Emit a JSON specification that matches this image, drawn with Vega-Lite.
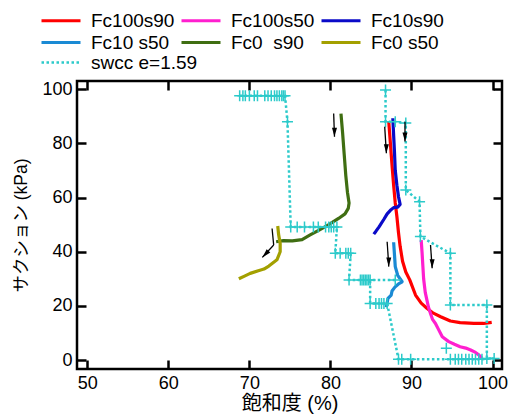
{
  "$schema": "https://vega.github.io/schema/vega-lite/v6.json",
  "width": 425,
  "height": 288,
  "autosize": {"type": "none"},
  "padding": {"left": 77, "top": 81, "right": 7, "bottom": 48},
  "background": "white",
  "config": {
    "font": "Liberation Sans",
    "view": {"stroke": "black", "strokeWidth": 2.5},
    "axis": {
      "grid": false,
      "domain": false,
      "tickColor": "black",
      "tickWidth": 2.5,
      "tickSize": -9,
      "labelPadding": 14,
      "labelFont": "Liberation Sans",
      "labelFontSize": 18,
      "labelColor": "black",
      "titleFont": "Liberation Sans, Noto Sans CJK JP",
      "titleFontWeight": "normal",
      "titleColor": "black"
    },
    "legend": {
      "title": null,
      "orient": "none",
      "direction": "horizontal",
      "symbolType": "stroke",
      "symbolSize": 1521,
      "symbolStrokeWidth": 3,
      "labelFont": "Liberation Sans",
      "labelFontSize": 19,
      "labelColor": "black",
      "labelOffset": 9,
      "columnPadding": 5,
      "rowPadding": 2,
      "padding": 0,
      "clipHeight": 19,
      "labelLimit": 0
    }
  },
  "datasets": {
    "curves": [
      {"series": "Fc100s90", "i": 0, "sat": 87.2, "suc": 88.0},
      {"series": "Fc100s90", "i": 1, "sat": 87.3, "suc": 84.0},
      {"series": "Fc100s90", "i": 2, "sat": 87.4, "suc": 80.0},
      {"series": "Fc100s90", "i": 3, "sat": 87.5, "suc": 76.0},
      {"series": "Fc100s90", "i": 4, "sat": 87.6, "suc": 72.0},
      {"series": "Fc100s90", "i": 5, "sat": 87.8, "suc": 64.5},
      {"series": "Fc100s90", "i": 6, "sat": 88.0, "suc": 58.0},
      {"series": "Fc100s90", "i": 7, "sat": 88.2, "suc": 53.0},
      {"series": "Fc100s90", "i": 8, "sat": 88.4, "suc": 47.0},
      {"series": "Fc100s90", "i": 9, "sat": 88.6, "suc": 42.0},
      {"series": "Fc100s90", "i": 10, "sat": 88.9, "suc": 36.5},
      {"series": "Fc100s90", "i": 11, "sat": 89.3, "suc": 32.5},
      {"series": "Fc100s90", "i": 12, "sat": 89.8, "suc": 29.5},
      {"series": "Fc100s90", "i": 13, "sat": 90.5, "suc": 24.0},
      {"series": "Fc100s90", "i": 14, "sat": 91.2, "suc": 21.0},
      {"series": "Fc100s90", "i": 15, "sat": 91.9, "suc": 19.1},
      {"series": "Fc100s90", "i": 16, "sat": 92.7, "suc": 17.3},
      {"series": "Fc100s90", "i": 17, "sat": 93.6, "suc": 16.0},
      {"series": "Fc100s90", "i": 18, "sat": 94.8, "suc": 14.4},
      {"series": "Fc100s90", "i": 19, "sat": 96.0, "suc": 13.8},
      {"series": "Fc100s90", "i": 20, "sat": 97.7, "suc": 13.5},
      {"series": "Fc100s90", "i": 21, "sat": 98.9, "suc": 13.5},
      {"series": "Fc100s90", "i": 22, "sat": 99.9, "suc": 13.9},

      {"series": "Fc100s50", "i": 0, "sat": 91.2, "suc": 44.3},
      {"series": "Fc100s50", "i": 1, "sat": 91.3, "suc": 40.0},
      {"series": "Fc100s50", "i": 2, "sat": 91.4, "suc": 35.0},
      {"series": "Fc100s50", "i": 3, "sat": 91.5, "suc": 30.0},
      {"series": "Fc100s50", "i": 4, "sat": 91.7, "suc": 25.0},
      {"series": "Fc100s50", "i": 5, "sat": 91.9, "suc": 22.2},
      {"series": "Fc100s50", "i": 6, "sat": 92.1, "suc": 19.5},
      {"series": "Fc100s50", "i": 7, "sat": 92.35, "suc": 17.2},
      {"series": "Fc100s50", "i": 8, "sat": 92.6, "suc": 15.0},
      {"series": "Fc100s50", "i": 9, "sat": 92.96, "suc": 13.5},
      {"series": "Fc100s50", "i": 10, "sat": 93.3, "suc": 11.5},
      {"series": "Fc100s50", "i": 11, "sat": 93.8, "suc": 8.6},
      {"series": "Fc100s50", "i": 12, "sat": 94.6, "suc": 6.8},
      {"series": "Fc100s50", "i": 13, "sat": 95.3, "suc": 5.8},
      {"series": "Fc100s50", "i": 14, "sat": 96.0, "suc": 4.9},
      {"series": "Fc100s50", "i": 15, "sat": 96.7, "suc": 4.4},
      {"series": "Fc100s50", "i": 16, "sat": 97.3, "suc": 3.7},
      {"series": "Fc100s50", "i": 17, "sat": 97.9, "suc": 2.8},
      {"series": "Fc100s50", "i": 18, "sat": 98.3, "suc": 1.9},
      {"series": "Fc100s50", "i": 19, "sat": 98.7, "suc": 0.7},

      {"series": "Fc10s90", "i": 0, "sat": 87.7, "suc": 89.3},
      {"series": "Fc10s90", "i": 1, "sat": 87.8, "suc": 83.0},
      {"series": "Fc10s90", "i": 2, "sat": 87.9, "suc": 77.0},
      {"series": "Fc10s90", "i": 3, "sat": 88.0, "suc": 70.0},
      {"series": "Fc10s90", "i": 4, "sat": 88.2, "suc": 64.6},
      {"series": "Fc10s90", "i": 5, "sat": 88.4, "suc": 60.3},
      {"series": "Fc10s90", "i": 6, "sat": 88.6, "suc": 57.5},
      {"series": "Fc10s90", "i": 7, "sat": 88.3, "suc": 56.5},
      {"series": "Fc10s90", "i": 8, "sat": 87.8, "suc": 56.3},
      {"series": "Fc10s90", "i": 9, "sat": 87.4, "suc": 55.3},
      {"series": "Fc10s90", "i": 10, "sat": 87.0, "suc": 54.0},
      {"series": "Fc10s90", "i": 11, "sat": 86.6, "suc": 52.0},
      {"series": "Fc10s90", "i": 12, "sat": 86.0, "suc": 49.2},
      {"series": "Fc10s90", "i": 13, "sat": 85.6, "suc": 47.5},
      {"series": "Fc10s90", "i": 14, "sat": 85.35, "suc": 46.5},

      {"series": "Fc10\u00a0s50", "i": 0, "sat": 87.8, "suc": 43.5},
      {"series": "Fc10\u00a0s50", "i": 1, "sat": 87.9, "suc": 39.0},
      {"series": "Fc10\u00a0s50", "i": 2, "sat": 88.0, "suc": 34.5},
      {"series": "Fc10\u00a0s50", "i": 3, "sat": 88.3, "suc": 31.3},
      {"series": "Fc10\u00a0s50", "i": 4, "sat": 88.85, "suc": 28.9},
      {"series": "Fc10\u00a0s50", "i": 5, "sat": 88.4, "suc": 28.1},
      {"series": "Fc10\u00a0s50", "i": 6, "sat": 88.0, "suc": 27.1},
      {"series": "Fc10\u00a0s50", "i": 7, "sat": 87.6, "suc": 25.5},
      {"series": "Fc10\u00a0s50", "i": 8, "sat": 87.5, "suc": 24.0},
      {"series": "Fc10\u00a0s50", "i": 9, "sat": 87.1, "suc": 22.8},
      {"series": "Fc10\u00a0s50", "i": 10, "sat": 86.9, "suc": 19.5},

      {"series": "Fc0\u00a0\u00a0s90", "i": 0, "sat": 81.3, "suc": 91.0},
      {"series": "Fc0\u00a0\u00a0s90", "i": 1, "sat": 81.5, "suc": 84.0},
      {"series": "Fc0\u00a0\u00a0s90", "i": 2, "sat": 81.7, "suc": 76.0},
      {"series": "Fc0\u00a0\u00a0s90", "i": 3, "sat": 81.9, "suc": 68.0},
      {"series": "Fc0\u00a0\u00a0s90", "i": 4, "sat": 82.1, "suc": 62.0},
      {"series": "Fc0\u00a0\u00a0s90", "i": 5, "sat": 82.3, "suc": 58.0},
      {"series": "Fc0\u00a0\u00a0s90", "i": 6, "sat": 82.2, "suc": 56.0},
      {"series": "Fc0\u00a0\u00a0s90", "i": 7, "sat": 81.8, "suc": 54.0},
      {"series": "Fc0\u00a0\u00a0s90", "i": 8, "sat": 81.0, "suc": 52.3},
      {"series": "Fc0\u00a0\u00a0s90", "i": 9, "sat": 79.8, "suc": 50.0},
      {"series": "Fc0\u00a0\u00a0s90", "i": 10, "sat": 78.6, "suc": 48.0},
      {"series": "Fc0\u00a0\u00a0s90", "i": 11, "sat": 77.5, "suc": 46.2},
      {"series": "Fc0\u00a0\u00a0s90", "i": 12, "sat": 76.5, "suc": 44.5},
      {"series": "Fc0\u00a0\u00a0s90", "i": 13, "sat": 75.3, "suc": 44.0},
      {"series": "Fc0\u00a0\u00a0s90", "i": 14, "sat": 74.2, "suc": 44.1},
      {"series": "Fc0\u00a0\u00a0s90", "i": 15, "sat": 73.3, "suc": 43.7},

      {"series": "Fc0\u00a0s50", "i": 0, "sat": 73.5, "suc": 49.5},
      {"series": "Fc0\u00a0s50", "i": 1, "sat": 73.6, "suc": 46.5},
      {"series": "Fc0\u00a0s50", "i": 2, "sat": 73.8, "suc": 43.0},
      {"series": "Fc0\u00a0s50", "i": 3, "sat": 73.8, "suc": 40.0},
      {"series": "Fc0\u00a0s50", "i": 4, "sat": 73.4, "suc": 37.0},
      {"series": "Fc0\u00a0s50", "i": 5, "sat": 72.4, "suc": 34.7},
      {"series": "Fc0\u00a0s50", "i": 6, "sat": 71.8, "suc": 33.6},
      {"series": "Fc0\u00a0s50", "i": 7, "sat": 71.1, "suc": 33.0},
      {"series": "Fc0\u00a0s50", "i": 8, "sat": 70.1, "suc": 32.0},
      {"series": "Fc0\u00a0s50", "i": 9, "sat": 69.4, "suc": 31.0},
      {"series": "Fc0\u00a0s50", "i": 10, "sat": 68.7, "suc": 30.0}
    ],
    "swcc": [
      {"series": "swcc e=1.59", "branch": "wet", "i": 0, "sat": 68.8, "suc": 97.6},
      {"series": "swcc e=1.59", "branch": "wet", "i": 1, "sat": 69.2, "suc": 97.6},
      {"series": "swcc e=1.59", "branch": "wet", "i": 2, "sat": 69.5, "suc": 97.6},
      {"series": "swcc e=1.59", "branch": "wet", "i": 3, "sat": 70.0, "suc": 97.6},
      {"series": "swcc e=1.59", "branch": "wet", "i": 4, "sat": 70.6, "suc": 97.6},
      {"series": "swcc e=1.59", "branch": "wet", "i": 5, "sat": 71.0, "suc": 97.6},
      {"series": "swcc e=1.59", "branch": "wet", "i": 6, "sat": 71.9, "suc": 97.6},
      {"series": "swcc e=1.59", "branch": "wet", "i": 7, "sat": 72.3, "suc": 97.6},
      {"series": "swcc e=1.59", "branch": "wet", "i": 8, "sat": 72.7, "suc": 97.6},
      {"series": "swcc e=1.59", "branch": "wet", "i": 9, "sat": 73.1, "suc": 97.6},
      {"series": "swcc e=1.59", "branch": "wet", "i": 10, "sat": 73.4, "suc": 97.6},
      {"series": "swcc e=1.59", "branch": "wet", "i": 11, "sat": 73.7, "suc": 97.6},
      {"series": "swcc e=1.59", "branch": "wet", "i": 12, "sat": 74.0, "suc": 97.6},
      {"series": "swcc e=1.59", "branch": "wet", "i": 13, "sat": 74.2, "suc": 97.6},
      {"series": "swcc e=1.59", "branch": "wet", "i": 14, "sat": 74.4, "suc": 97.6},
      {"series": "swcc e=1.59", "branch": "wet", "i": 15, "sat": 74.7, "suc": 88.0},
      {"series": "swcc e=1.59", "branch": "wet", "i": 16, "sat": 75.1, "suc": 49.1},
      {"series": "swcc e=1.59", "branch": "wet", "i": 17, "sat": 75.9, "suc": 49.1},
      {"series": "swcc e=1.59", "branch": "wet", "i": 18, "sat": 76.8, "suc": 49.1},
      {"series": "swcc e=1.59", "branch": "wet", "i": 19, "sat": 77.9, "suc": 49.1},
      {"series": "swcc e=1.59", "branch": "wet", "i": 20, "sat": 78.5, "suc": 49.1},
      {"series": "swcc e=1.59", "branch": "wet", "i": 21, "sat": 79.4, "suc": 49.1},
      {"series": "swcc e=1.59", "branch": "wet", "i": 22, "sat": 79.8, "suc": 49.1},
      {"series": "swcc e=1.59", "branch": "wet", "i": 23, "sat": 80.1, "suc": 49.1},
      {"series": "swcc e=1.59", "branch": "wet", "i": 24, "sat": 80.4, "suc": 49.1},
      {"series": "swcc e=1.59", "branch": "wet", "i": 25, "sat": 80.8, "suc": 49.1},
      {"series": "swcc e=1.59", "branch": "wet", "i": 26, "sat": 80.6, "suc": 39.4},
      {"series": "swcc e=1.59", "branch": "wet", "i": 27, "sat": 81.2, "suc": 39.4},
      {"series": "swcc e=1.59", "branch": "wet", "i": 28, "sat": 81.9, "suc": 39.4},
      {"series": "swcc e=1.59", "branch": "wet", "i": 29, "sat": 82.2, "suc": 39.4},
      {"series": "swcc e=1.59", "branch": "wet", "i": 30, "sat": 82.5, "suc": 39.4},
      {"series": "swcc e=1.59", "branch": "wet", "i": 31, "sat": 82.3, "suc": 29.6},
      {"series": "swcc e=1.59", "branch": "wet", "i": 32, "sat": 83.7, "suc": 29.6},
      {"series": "swcc e=1.59", "branch": "wet", "i": 33, "sat": 83.9, "suc": 29.6},
      {"series": "swcc e=1.59", "branch": "wet", "i": 34, "sat": 84.1, "suc": 29.6},
      {"series": "swcc e=1.59", "branch": "wet", "i": 35, "sat": 84.3, "suc": 29.6},
      {"series": "swcc e=1.59", "branch": "wet", "i": 36, "sat": 84.5, "suc": 29.6},
      {"series": "swcc e=1.59", "branch": "wet", "i": 37, "sat": 84.7, "suc": 29.6},
      {"series": "swcc e=1.59", "branch": "wet", "i": 38, "sat": 88.0, "suc": 29.6},

      {"series": "swcc e=1.59", "branch": "dry", "i": 0, "sat": 86.8, "suc": 99.7},
      {"series": "swcc e=1.59", "branch": "dry", "i": 1, "sat": 86.8, "suc": 88.0},
      {"series": "swcc e=1.59", "branch": "dry", "i": 2, "sat": 88.0, "suc": 88.0},
      {"series": "swcc e=1.59", "branch": "dry", "i": 3, "sat": 89.3, "suc": 87.6},
      {"series": "swcc e=1.59", "branch": "dry", "i": 4, "sat": 89.3, "suc": 62.8},
      {"series": "swcc e=1.59", "branch": "dry", "i": 5, "sat": 91.0, "suc": 58.5},
      {"series": "swcc e=1.59", "branch": "dry", "i": 6, "sat": 91.1, "suc": 45.6},
      {"series": "swcc e=1.59", "branch": "dry", "i": 7, "sat": 94.8, "suc": 39.4},
      {"series": "swcc e=1.59", "branch": "dry", "i": 8, "sat": 94.8, "suc": 20.3},
      {"series": "swcc e=1.59", "branch": "dry", "i": 9, "sat": 99.3, "suc": 20.3},
      {"series": "swcc e=1.59", "branch": "dry", "i": 10, "sat": 99.3, "suc": 0.6},
      {"series": "swcc e=1.59", "branch": "dry", "i": 11, "sat": 100.2, "suc": 0.6},
      {"series": "swcc e=1.59", "branch": "dry", "i": 12, "sat": 98.7, "suc": 0.3},
      {"series": "swcc e=1.59", "branch": "dry", "i": 13, "sat": 98.3, "suc": 0.3},
      {"series": "swcc e=1.59", "branch": "dry", "i": 14, "sat": 97.9, "suc": 0.3},
      {"series": "swcc e=1.59", "branch": "dry", "i": 15, "sat": 97.5, "suc": 0.3},
      {"series": "swcc e=1.59", "branch": "dry", "i": 16, "sat": 97.1, "suc": 0.3},
      {"series": "swcc e=1.59", "branch": "dry", "i": 17, "sat": 96.7, "suc": 0.3},
      {"series": "swcc e=1.59", "branch": "dry", "i": 18, "sat": 96.2, "suc": 0.3},
      {"series": "swcc e=1.59", "branch": "dry", "i": 19, "sat": 95.8, "suc": 0.3},
      {"series": "swcc e=1.59", "branch": "dry", "i": 20, "sat": 95.4, "suc": 0.3},
      {"series": "swcc e=1.59", "branch": "dry", "i": 21, "sat": 94.8, "suc": 0.3},
      {"series": "swcc e=1.59", "branch": "dry", "i": 22, "sat": 89.9, "suc": 0.3},
      {"series": "swcc e=1.59", "branch": "dry", "i": 23, "sat": 88.8, "suc": 0.3},
      {"series": "swcc e=1.59", "branch": "dry", "i": 24, "sat": 88.4, "suc": 0.3},
      {"series": "swcc e=1.59", "branch": "dry", "i": 25, "sat": 87.0, "suc": 20.9},
      {"series": "swcc e=1.59", "branch": "dry", "i": 26, "sat": 86.6, "suc": 20.9},
      {"series": "swcc e=1.59", "branch": "dry", "i": 27, "sat": 86.3, "suc": 20.9},
      {"series": "swcc e=1.59", "branch": "dry", "i": 28, "sat": 86.0, "suc": 20.9},
      {"series": "swcc e=1.59", "branch": "dry", "i": 29, "sat": 85.6, "suc": 20.9},
      {"series": "swcc e=1.59", "branch": "dry", "i": 30, "sat": 84.9, "suc": 20.9},
      {"series": "swcc e=1.59", "branch": "dry", "i": 31, "sat": 84.9, "suc": 29.6},

      {"series": "swcc e=1.59", "branch": "lone", "i": 0, "sat": 94.3, "suc": 4.3}
    ],
    "arrows": [
      {"id": "a", "head": true, "sat": 80.4, "suc": 91.1, "sat2": 80.5, "suc2": 82.5},
      {"id": "b", "head": true, "sat": 86.7, "suc": 86.2, "sat2": 86.9, "suc2": 76.4},
      {"id": "c", "head": true, "sat": 89.2, "suc": 88.0, "sat2": 89.2, "suc2": 80.7},
      {"id": "d", "head": true, "sat": 87.0, "suc": 43.7, "sat2": 87.2, "suc2": 34.5},
      {"id": "e", "head": true, "sat": 92.35, "suc": 42.5, "sat2": 92.55, "suc2": 33.9},
      {"id": "f", "head": false, "sat": 72.8, "suc": 48.6, "sat2": 73.0, "suc2": 42.5},
      {"id": "f", "head": true, "sat": 73.0, "suc": 42.5, "sat2": 71.6, "suc2": 37.9}
    ]
  },
  "resolve": {"axis": {"x": "independent", "y": "independent"}},
  "layer": [
    {
      "data": {"name": "curves"},
      "mark": {"type": "line", "strokeWidth": 3.2, "strokeJoin": "round"},
      "encoding": {
        "x": {
          "field": "sat", "type": "quantitative",
          "scale": {"domain": [48.73, 101.17], "nice": false, "zero": false},
          "axis": {"orient": "bottom", "values": [50, 60, 70, 80, 90, 100], "title": "飽和度 (%)", "titleFontSize": 20, "titlePadding": 1}
        },
        "y": {
          "field": "suc", "type": "quantitative",
          "scale": {"domain": [-3.32, 103.07], "nice": false, "zero": false},
          "axis": {"orient": "left", "values": [0, 20, 40, 60, 80, 100], "title": "サクション (kPa)", "titleFontSize": 17.5, "titlePadding": 11}
        },
        "color": {
          "field": "series", "type": "nominal",
          "scale": {
            "domain": ["Fc100s90", "Fc100s50", "Fc10s90", "Fc10\u00a0s50", "Fc0\u00a0\u00a0s90", "Fc0\u00a0s50"],
            "range": ["#ff0000", "#ff1fcf", "#0a0ac8", "#1a8ad4", "#3f6e12", "#a3a000"]
          },
          "legend": {"legendX": -37, "legendY": -70, "columns": 3}
        },
        "order": {"field": "i", "type": "quantitative"}
      }
    },
    {
      "data": {"name": "swcc"},
      "mark": {"type": "line", "strokeWidth": 2.5, "strokeCap": "butt", "color": "#2ccaca"},
      "encoding": {
        "x": {"field": "sat", "type": "quantitative", "scale": {"domain": [48.73, 101.17], "nice": false, "zero": false}, "axis": null},
        "y": {"field": "suc", "type": "quantitative", "scale": {"domain": [-3.32, 103.07], "nice": false, "zero": false}, "axis": null},
        "strokeDash": {
          "field": "series", "type": "nominal",
          "scale": {"domain": ["swcc e=1.59"], "range": [[2.5, 2.5]]},
          "legend": {"legendX": -37, "legendY": -28, "symbolStrokeColor": "#2ccaca", "symbolStrokeWidth": 2.5}
        },
        "detail": {"field": "branch"},
        "order": {"field": "i", "type": "quantitative"}
      }
    },
    {
      "data": {"name": "swcc"},
      "mark": {"type": "point", "shape": "M-1,0L1,0M0,-1L0,1", "size": 121, "filled": false, "stroke": "#2ccaca", "strokeWidth": 1.5, "opacity": 1},
      "encoding": {
        "x": {"field": "sat", "type": "quantitative", "scale": {"domain": [48.73, 101.17], "nice": false, "zero": false}, "axis": null},
        "y": {"field": "suc", "type": "quantitative", "scale": {"domain": [-3.32, 103.07], "nice": false, "zero": false}, "axis": null}
      }
    },
    {
      "data": {"name": "arrows"},
      "mark": {"type": "rule", "color": "black", "strokeWidth": 1.3},
      "encoding": {
        "x": {
          "field": "sat", "type": "quantitative",
          "scale": {"domain": [48.73, 101.17], "nice": false, "zero": false},
          "axis": {"orient": "top", "values": [50, 60, 70, 80, 90, 100], "labels": false, "title": null}
        },
        "y": {
          "field": "suc", "type": "quantitative",
          "scale": {"domain": [-3.32, 103.07], "nice": false, "zero": false},
          "axis": {"orient": "right", "values": [0, 20, 40, 60, 80, 100], "labels": false, "title": null}
        },
        "x2": {"field": "sat2"},
        "y2": {"field": "suc2"}
      }
    },
    {
      "data": {"name": "arrows"},
      "transform": [{"filter": "datum.head && datum.id != 'f'"}],
      "mark": {"type": "point", "shape": "M-1,-3.6L1,-3.6L0,0Z", "size": 25, "filled": true, "color": "black", "opacity": 1},
      "encoding": {
        "x": {"field": "sat2", "type": "quantitative", "scale": {"domain": [48.73, 101.17], "nice": false, "zero": false}, "axis": null},
        "y": {"field": "suc2", "type": "quantitative", "scale": {"domain": [-3.32, 103.07], "nice": false, "zero": false}, "axis": null}
      }
    },
    {
      "data": {"name": "arrows"},
      "transform": [{"filter": "datum.head && datum.id == 'f'"}],
      "mark": {"type": "point", "shape": "M-1,-3.6L1,-3.6L0,0Z", "size": 25, "filled": true, "color": "black", "opacity": 1, "angle": 43},
      "encoding": {
        "x": {"field": "sat2", "type": "quantitative", "scale": {"domain": [48.73, 101.17], "nice": false, "zero": false}, "axis": null},
        "y": {"field": "suc2", "type": "quantitative", "scale": {"domain": [-3.32, 103.07], "nice": false, "zero": false}, "axis": null}
      }
    }
  ]
}
